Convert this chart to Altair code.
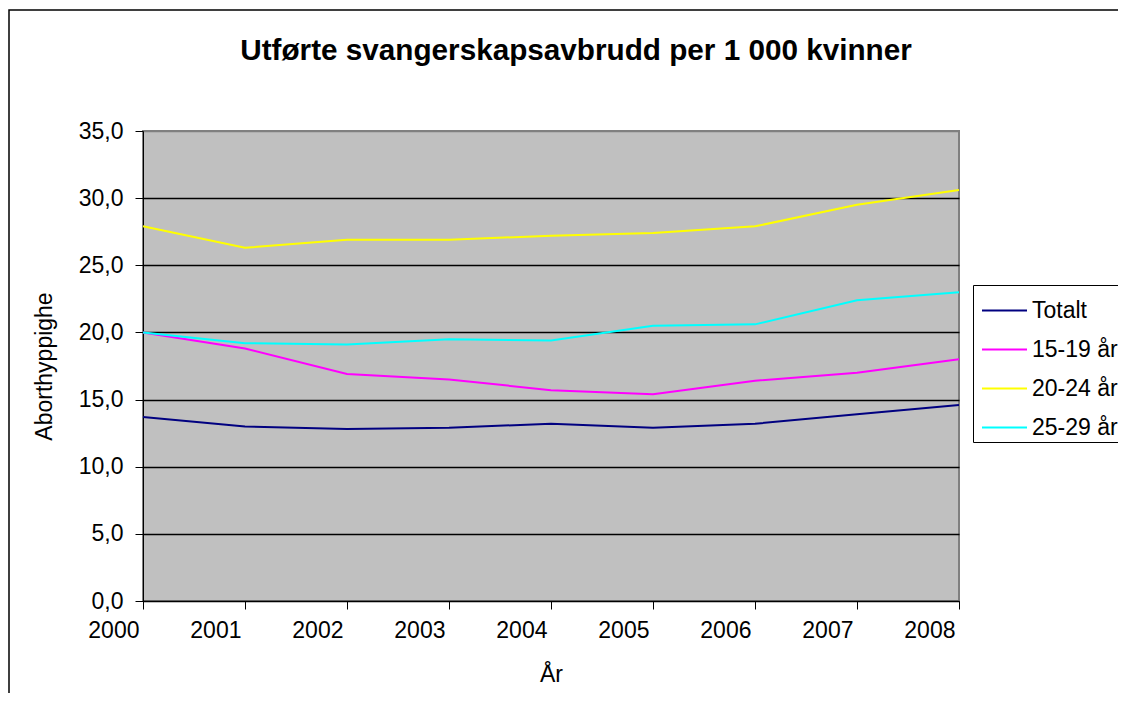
import altair as alt
import pandas as pd

years = [2000, 2001, 2002, 2003, 2004, 2005, 2006, 2007, 2008]
totalt = [13.7, 13.0, 12.8, 12.9, 13.2, 12.9, 13.2, 13.9, 14.6]
aar_15_19 = [20.0, 18.8, 16.9, 16.5, 15.7, 15.4, 16.4, 17.0, 18.0]
aar_20_24 = [27.9, 26.3, 26.9, 26.9, 27.2, 27.4, 27.9, 29.5, 30.6]
aar_25_29 = [20.0, 19.2, 19.1, 19.5, 19.4, 20.5, 20.6, 22.4, 23.0]
series_names = ["Totalt", "15-19 år", "20-24 år", "25-29 år"]
series_colors = ["#000080", "#FF00FF", "#FFFF00", "#00FFFF"]
y_ticks = [0, 5, 10, 15, 20, 25, 30, 35]
title_text = "Utførte svangerskapsavbrudd per 1 000 kvinner"
x_title = "År"
y_title = "Aborthyppighe"

rows = []
for name, vals in zip(series_names, [totalt, aar_15_19, aar_20_24, aar_25_29]):
    for yr, v in zip(years, vals):
        rows.append({"År": yr, "Verdi": v, "Serie": name})
df = pd.DataFrame(rows)

FONT = "Liberation Sans"
W, H = 816, 470
PL, PT = 135, 123
PR = 1110 - PL - W
PB = 685 - PT - H

lines = alt.Chart(df).mark_line(strokeWidth=2).encode(
    x=alt.X(
        "År:Q",
        scale=alt.Scale(domain=[2000, 2008], nice=False, zero=False),
        axis=alt.Axis(
            values=years, format="d", title=x_title, grid=False,
            tickSize=8, tickColor="black", domainColor="black",
            labelAlign="right", labelOffset=-4, labelPadding=10,
            labelFontSize=23, labelFont=FONT, labelColor="black",
            labelFlush=False, labelOverlap=False,
            titleFontSize=23, titleFont=FONT, titleFontWeight="normal",
            titleColor="black", titlePadding=21,
        ),
    ),
    y=alt.Y(
        "Verdi:Q",
        scale=alt.Scale(domain=[0, 35], nice=False),
        axis=alt.Axis(
            values=y_ticks,
            labelExpr="replace(format(datum.value, '.1f'), '.', ',')",
            title=y_title, grid=True,
            gridColor=alt.condition("datum.value == 35", alt.value("#808080"), alt.value("black")),
            gridWidth=1.5,
            tickSize=8, tickColor="black", domainColor="black",
            labelPadding=12, labelFontSize=23, labelFont=FONT, labelColor="black",
            titleFontSize=23, titleFont=FONT, titleFontWeight="normal",
            titleColor="black", titlePadding=22,
        ),
    ),
    color=alt.Color(
        "Serie:N",
        scale=alt.Scale(domain=series_names, range=series_colors),
        legend=alt.Legend(
            title=None, orient="none", legendX=830, legendY=154,
            direction="vertical", symbolType="stroke", symbolSize=2025,
            symbolStrokeWidth=2, symbolOffset=6, labelOffset=4,
            labelFontSize=23, labelFont=FONT, labelColor="black",
            strokeColor="black", fillColor="white", padding=2,
            rowPadding=3, labelLimit=400,
        ),
    ),
)

title_df = pd.DataFrame({"t": [title_text]})
title_mark = alt.Chart(title_df).mark_text(
    font=FONT, fontSize=29.7, fontWeight="bold", color="black",
    align="center", baseline="alphabetic",
).encode(text="t:N", x=alt.value(433), y=alt.value(-71))

border = alt.Chart(title_df).mark_rect(
    fill="transparent", stroke="black", strokeWidth=1.5,
).encode(x=alt.value(-134), x2=alt.value(1200), y=alt.value(-121), y2=alt.value(800))

chart = alt.layer(border, lines, title_mark).properties(
    width=W, height=H,
    autosize=alt.AutoSizeParams(type="none"),
    padding={"left": PL, "top": PT, "right": PR, "bottom": PB},
    background="white",
).configure_view(
    fill="#C0C0C0", stroke="#808080", strokeWidth=2,
)

chart.save("out.html", embed_options={"renderer": "svg", "actions": False})
